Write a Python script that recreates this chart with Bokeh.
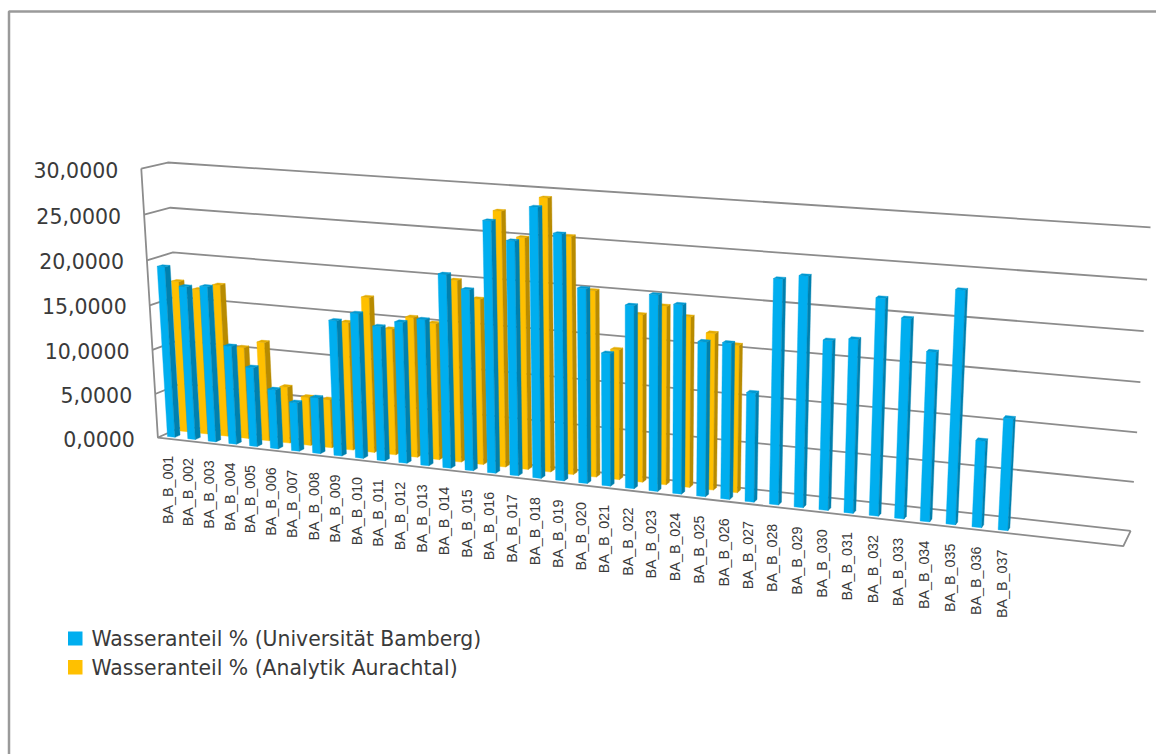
import numpy as np
from bokeh.plotting import figure
from bokeh.models import ColumnDataSource
from bokeh.core.properties import value
from bokeh.embed import file_html
from bokeh.resources import INLINE

categories = [f"BA_B_{i:03d}" for i in range(1, 38)]
bamberg = [19.25, 17.25, 17.45, 11.05, 8.9, 6.65, 5.45, 6.25, 14.95, 15.95, 14.75, 15.43, 15.93,
           20.95, 19.53, 26.9, 25.0, 28.65, 26.1, 20.65, 14.1, 19.3, 20.6, 19.8, 16.2,
           16.3, 11.4, 23.2, 23.7, 17.45, 17.8, 22.1, 20.3, 17.2, 23.5, 8.8, 11.3]
aurachtal = [17.15, 16.45, 17.15, 10.35, 11.15, 6.35, 5.45, 5.43, 14.25, 17.2, 13.95, 15.45, 15.0,
             19.85, 18.05, 27.53, 24.93, 29.23, 25.43, 19.95, 13.95, 17.85, 18.95, 18.05, 16.55, 15.55]
y_ticks = [0, 5, 10, 15, 20, 25, 30]
y_tick_labels = ["0,0000", "5,0000", "10,0000", "15,0000", "20,0000", "25,0000", "30,0000"]
series_names = ["Wasseranteil % (Universität Bamberg)", "Wasseranteil % (Analytik Aurachtal)"]

BLUE = ("#00AEEF", "#0080AE", "#0099D2")
AMBER = ("#FFC000", "#B88B00", "#E3AB00")
FRAME = "#8C8C8C"
INK = "#3A3A3A"
SLOTS = 41       # four trailing categories stay empty
Y_MAX = 30.0

# Perspective camera of the chart box, solved from where its corners land on the page:
# (x along categories, y along values, z into depth) -> page pixels.
box = [((0, 0, 0), (157, 435)), ((0, 1, 0), (141, 169)), ((0, 0, 1), (183, 428)),
       ((0, 1, 1), (167, 161)), ((1, 0, 1), (1130, 529)), ((1, 1, 1), (1150, 227)),
       ((1, 0, 0), (1123, 547))]
rows, rhs = [], []
for (a, b, c), (u, v) in box:
    rows.append([a, b, c, 1, 0, 0, 0, 0, -u * a, -u * b, -u * c]); rhs.append(u)
    rows.append([0, 0, 0, 0, a, b, c, 1, -v * a, -v * b, -v * c]); rhs.append(v)
cam = np.append(np.linalg.lstsq(np.array(rows, float), np.array(rhs, float), rcond=None)[0], 1).reshape(3, 4)


def project(x, val, z):
    h = cam @ np.array([x, val / Y_MAX, z, 1.0])
    return h[0] / h[2], h[1] / h[2]


def face(points):
    pts = [project(*pt) for pt in points]
    return [q[0] for q in pts], [q[1] for q in pts]


p = figure(width=1156, height=754, x_range=(0, 1156), y_range=(754, 0), output_backend="svg",
           toolbar_location=None, min_border=0, outline_line_color=None,
           background_fill_color="white", border_fill_color="white")
p.axis.visible = False
p.grid.visible = False

# Outer chart-area frame
p.line([8.5, 8.5, 1156], [754, 11, 11], line_color="#9A9A9A", line_width=2.5)

# Walls and floor
xs, ys = [], []
for t in y_ticks:
    a = face([(0, t, 0), (0, t, 1), (1, t, 1)])
    xs.append(a[0]); ys.append(a[1])
a = face([(0, Y_MAX, 0), (0, 0, 0), (1, 0, 0), (1, 0, 1)])
xs.append(a[0]); ys.append(a[1])
p.multi_line(xs, ys, line_color=FRAME, line_width=1.8)


def column(i, val, z0, z1, colours, width=0.37):
    x0 = (i + 0.47 - width / 2) / SLOTS
    x1 = (i + 0.47 + width / 2) / SLOTS
    front = face([(x0, 0, z0), (x1, 0, z0), (x1, val, z0), (x0, val, z0)])
    side = face([(x1, 0, z0), (x1, 0, z1), (x1, val, z1), (x1, val, z0)])
    top = face([(x0, val, z0), (x1, val, z0), (x1, val, z1), (x0, val, z1)])
    return [(front, colours[0]), (side, colours[1]), (top, colours[2])]


def draw_series(values, z0, z1, colours):
    fx, fy, fc = [], [], []
    for i, val in enumerate(values):
        for (qx, qy), col in column(i, val, z0, z1, colours):
            fx.append(qx); fy.append(qy); fc.append(col)
    p.patches("x", "y", fill_color="c", line_color="c", line_width=0.4,
              source=ColumnDataSource(dict(x=fx, y=fy, c=fc)))


draw_series(aurachtal, 0.65, 0.85, AMBER)
draw_series(bamberg, 0.15, 0.35, BLUE)

# Value labels follow the slanted front edge of the left wall
tick_pos = [project(0, t, 0) for t in y_ticks]
p.text([q[0] - 23 for q in tick_pos], [q[1] + 1 for q in tick_pos], text=y_tick_labels,
       text_font=value("DejaVu Sans"), text_font_size="20.5px", text_color=INK,
       text_align="right", text_baseline="middle")

# Category labels hang below the front edge of the floor
cat_pos = [project((i + 0.5) / SLOTS, 0, 0) for i in range(len(categories))]
p.text([q[0] for q in cat_pos], [q[1] + 17 for q in cat_pos], text=categories,
       text_font=value("Liberation Sans"), text_font_size="14.3px", text_color=INK,
       angle=np.pi / 2, text_align="right", text_baseline="middle")

# Legend
p.quad(left=[67.5, 67.5], right=[82, 82], top=[631, 659.5], bottom=[645, 674],
       fill_color=[BLUE[0], AMBER[0]], line_color=None)
p.text([91, 91], [638, 667], text=series_names, text_font=value("DejaVu Sans"),
       text_font_size="20.4px", text_color=INK, text_align="left", text_baseline="middle")

open("out.html", "w").write(file_html(p, INLINE))
